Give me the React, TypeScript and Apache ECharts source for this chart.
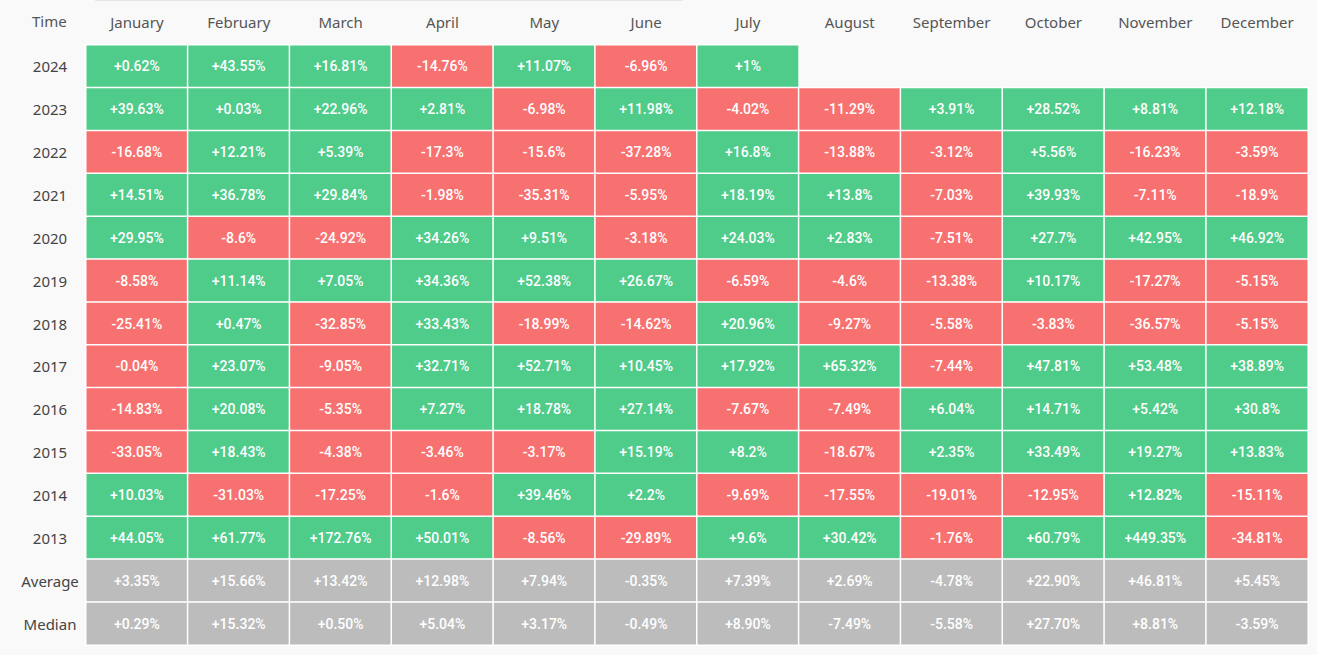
import React, { useEffect, useRef } from "react";
import * as echarts from "echarts";

const months = ["January","February","March","April","May","June","July","August","September","October","November","December"];
const rowLabels = ["2024","2023","2022","2021","2020","2019","2018","2017","2016","2015","2014","2013","Average","Median"];

const y2024 = [0.62, 43.55, 16.81, -14.76, 11.07, -6.96, 1];
const y2023 = [39.63, 0.03, 22.96, 2.81, -6.98, 11.98, -4.02, -11.29, 3.91, 28.52, 8.81, 12.18];
const y2022 = [-16.68, 12.21, 5.39, -17.3, -15.6, -37.28, 16.8, -13.88, -3.12, 5.56, -16.23, -3.59];
const y2021 = [14.51, 36.78, 29.84, -1.98, -35.31, -5.95, 18.19, 13.8, -7.03, 39.93, -7.11, -18.9];
const y2020 = [29.95, -8.6, -24.92, 34.26, 9.51, -3.18, 24.03, 2.83, -7.51, 27.7, 42.95, 46.92];
const y2019 = [-8.58, 11.14, 7.05, 34.36, 52.38, 26.67, -6.59, -4.6, -13.38, 10.17, -17.27, -5.15];
const y2018 = [-25.41, 0.47, -32.85, 33.43, -18.99, -14.62, 20.96, -9.27, -5.58, -3.83, -36.57, -5.15];
const y2017 = [-0.04, 23.07, -9.05, 32.71, 52.71, 10.45, 17.92, 65.32, -7.44, 47.81, 53.48, 38.89];
const y2016 = [-14.83, 20.08, -5.35, 7.27, 18.78, 27.14, -7.67, -7.49, 6.04, 14.71, 5.42, 30.8];
const y2015 = [-33.05, 18.43, -4.38, -3.46, -3.17, 15.19, 8.2, -18.67, 2.35, 33.49, 19.27, 13.83];
const y2014 = [10.03, -31.03, -17.25, -1.6, 39.46, 2.2, -9.69, -17.55, -19.01, -12.95, 12.82, -15.11];
const y2013 = [44.05, 61.77, 172.76, 50.01, -8.56, -29.89, 9.6, 30.42, -1.76, 60.79, 449.35, -34.81];
const average = ["+3.35%","+15.66%","+13.42%","+12.98%","+7.94%","-0.35%","+7.39%","+2.69%","-4.78%","+22.90%","+46.81%","+5.45%"];
const median = ["+0.29%","+15.32%","+0.50%","+5.04%","+3.17%","-0.49%","+8.90%","-7.49%","-5.58%","+27.70%","+8.81%","-3.59%"];

const yearRows = [y2024, y2023, y2022, y2021, y2020, y2019, y2018, y2017, y2016, y2015, y2014, y2013];

const GREEN = "#4fcb8a";
const RED = "#f87171";
const GRAY = "#bcbcbc";

function fmt(v: number) {
  return (v >= 0 ? "+" : "") + String(v) + "%";
}

export default function App() {
  const ref = useRef<HTMLDivElement>(null);
  useEffect(() => {
    if (!ref.current) return;
    const chart = echarts.init(ref.current, null, { renderer: "svg" });
    const data: any[] = [];
    yearRows.forEach((row, r) => {
      row.forEach((v, c) => {
        data.push({
          value: [c, r, v, v >= 0 ? 1 : 0],
          label: { formatter: fmt(v) },
        });
      });
    });
    [average, median].forEach((row, i) => {
      row.forEach((s, c) => {
        data.push({
          value: [c, 12 + i, parseFloat(s), 2],
          label: { formatter: s },
        });
      });
    });
    chart.setOption({
      animation: false,
      backgroundColor: "#f9f9f9",
      grid: { left: 86, right: 9, top: 45, bottom: 10 },
      visualMap: {
        type: "piecewise",
        show: false,
        dimension: 3,
        pieces: [
          { value: 0, color: RED },
          { value: 1, color: GREEN },
          { value: 2, color: GRAY },
        ],
      },
      xAxis: {
        type: "category",
        data: months,
        position: "top",
        axisLine: { show: false },
        axisTick: { show: false },
        splitLine: { show: false },
        axisLabel: { color: "#555", fontSize: 15, fontFamily: "Noto Sans", margin: 16 },
      },
      yAxis: {
        type: "category",
        data: rowLabels,
        inverse: true,
        axisLine: { show: false },
        axisTick: { show: false },
        splitLine: { show: false },
        axisLabel: { color: "#444", fontSize: 15, fontFamily: "Noto Sans", margin: 36, align: "center" },
      },
      graphic: [
        { type: "text", left: 32, top: 13, style: { text: "Time", fill: "#555", fontSize: 15, fontFamily: "Noto Sans" } },
        { type: "line", shape: { x1: 95, y1: 0.5, x2: 683, y2: 0.5 }, style: { stroke: "#e6e6e6", lineWidth: 1 } },
      ],
      series: [
        {
          type: "heatmap",
          data,
          itemStyle: { borderColor: "#ffffff", borderWidth: 1.5 },
          label: { show: true, color: "#ffffff", fontSize: 14, fontWeight: 500, fontFamily: "Roboto" },
          emphasis: { disabled: true },
        },
      ],
    });
    return () => chart.dispose();
  }, []);
  return <div ref={ref} style={{ position: "fixed", left: 0, top: 0, width: 1317, height: 655 }} />;
}
